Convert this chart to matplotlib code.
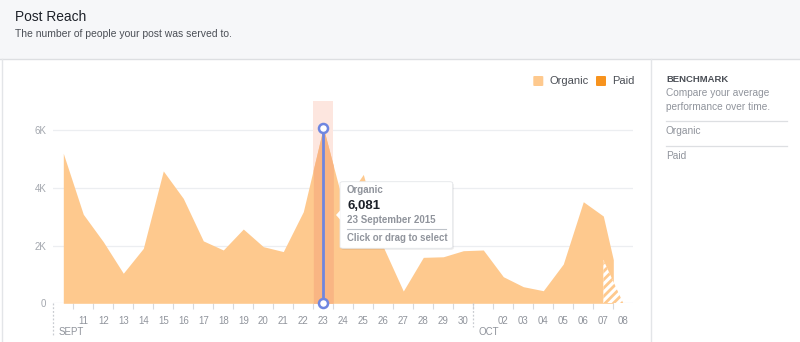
import numpy as np
import pandas as pd
import matplotlib
matplotlib.use("Agg")
import matplotlib.pyplot as plt
from matplotlib.patches import Rectangle, FancyBboxPatch, Polygon
from matplotlib.lines import Line2D

plt.rcParams['font.family'] = ['Liberation Sans', 'DejaVu Sans']
plt.rcParams['hatch.linewidth'] = 2.0

# data: daily organic reach, 10 Sept -> 8 Oct 2015
dates = pd.date_range('2015-09-10', '2015-10-08', freq='D')
organic = [5190, 3080, 2130, 1040, 1900, 4580, 3630, 2160, 1845, 2570,
           1960, 1790, 3170, 6081, 3450, 4460, 1950, 425, 1590, 1610,
           1820, 1845, 920, 575, 436, 1360, 3515, 3020, 0]
paid = [0] * len(organic)
partial_from = 27.5          # last half day is incomplete (hatched)
selected = 13                # 23 Sept, the hovered day
y_ticks = [0, 2000, 4000, 6000]
y_labels = ['0', '2K', '4K', '6K']

ORG = '#fec98e'
PAID = '#f7931e'
GRAY = '#90949c'
DARK = '#4b4f56'
BLUE = '#6f86e0'

W, H = 800, 342
fig = plt.figure(figsize=(W / 100, H / 100), dpi=100)


def fx(x):
    return x / W


def fy(y):
    return 1 - y / H


# header band
fig.add_artist(Rectangle((0, fy(59)), 1, 59 / H, transform=fig.transFigure,
                         facecolor='#f6f7f9', edgecolor='none', zorder=0))
fig.add_artist(Line2D([0, 1], [fy(59), fy(59)], transform=fig.transFigure,
                      color='#dddfe2', lw=1))
fig.add_artist(Line2D([fx(1.5), fx(1.5)], [0, fy(59)], transform=fig.transFigure,
                      color='#e3e5e8', lw=1))
fig.add_artist(Line2D([fx(651), fx(651)], [0, fy(59)], transform=fig.transFigure,
                      color='#e3e5e8', lw=1))
fig.text(fx(15), fy(21), 'Post Reach', fontsize=9.9, color='#1d2129', va='baseline')
fig.text(fx(15), fy(37), 'The number of people your post was served to.',
         fontsize=7.5, color=DARK, va='baseline')

# main axes
ax = fig.add_axes([fx(53.3), fy(303.3), 580 / W, (303.3 - 101) / H])
ax.set_facecolor('none')
for s in ax.spines.values():
    s.set_visible(False)

x = np.arange(len(organic))
org = np.array(organic, dtype=float)
ax.set_xlim(-0.5, len(organic) - 0.5)
ax.set_ylim(0, 7000)

for t in y_ticks:
    ax.axhline(t, color='#eceef1', lw=0.9, zorder=0)

# selected day band
ax.axvspan(selected - 0.5, selected + 0.5, color='#fde6df', zorder=1, lw=0)

# solid part
xs = np.append(x[x < partial_from], partial_from)
ys = np.append(org[x < partial_from], np.interp(partial_from, x, org))
ax.fill_between(xs, 0, ys, color=ORG, lw=0, zorder=2)
# hatched incomplete part
xh = np.insert(x[x > partial_from], 0, partial_from)
yh = np.insert(org[x > partial_from], 0, np.interp(partial_from, x, org))
ax.fill_between(xh, 0, yh, facecolor='white', edgecolor=ORG, hatch='////',
                lw=0, zorder=2)

# darker tint where the band overlaps the area
band_x = np.linspace(selected - 0.5, selected + 0.5, 21)
ax.fill_between(band_x, 0, np.interp(band_x, x, org), color='#f9b583', lw=0, zorder=3)

# hover marker
ax.plot([selected, selected], [0, organic[selected]], color=BLUE, lw=2, zorder=5)
ax.plot([selected, selected], [0, organic[selected]], 'o', ms=6.5, mfc='white',
        mec=BLUE, mew=1.8, zorder=6, clip_on=False)

# y axis
ax.set_yticks(y_ticks)
ax.set_yticklabels(y_labels)
ax.tick_params(axis='y', length=0, pad=5, labelsize=7, labelcolor='#a3a7ae')

# x axis: day labels at centres, small ticks at day boundaries
labels = []
month_starts = [0]
for i, d in enumerate(dates):
    if i > 0 and d.day == 1:
        month_starts.append(i)
    labels.append('' if i in month_starts else f'{d.day:02d}')
ax.set_xticks(x)
ax.set_xticklabels(labels)
ax.set_xticks(x[1:] - 0.5, minor=True)
ax.tick_params(axis='x', which='major', length=0, pad=9, labelsize=7, labelcolor=GRAY)
ax.tick_params(axis='x', which='minor', length=4, width=0.8, color='#d6d9dd')

tr = ax.get_xaxis_transform()
for k, m in enumerate(month_starts):
    bottom = -0.157 if k == 0 else -0.117
    ax.plot([m - 0.5, m - 0.5], [0, bottom], transform=tr, color='#c9ccd1',
            lw=0.9, ls=(0, (1.5, 1.5)), clip_on=False)
    ax.text(m - 0.25, -0.157, dates[m].strftime('%b').upper() + ('T' if dates[m].month == 9 else ''),
            transform=tr, fontsize=7, color=GRAY, va='baseline', ha='left')

# legend
for lx, col, name in [(533.3, ORG, 'Organic'), (596, PAID, 'Paid')]:
    fig.add_artist(FancyBboxPatch((fx(lx), fy(86)), 10 / W, 10 / H,
                                  boxstyle='round,pad=0,rounding_size=0.002',
                                  transform=fig.transFigure, facecolor=col,
                                  edgecolor='none'))
    fig.text(fx(lx + 16), fy(84), name, fontsize=8, color=DARK, va='baseline')

# tooltip
tx0, ty0, tx1, ty1 = 340, 181.7, 452.7, 248.3
fig.add_artist(FancyBboxPatch((fx(tx0 + 1), fy(ty1 + 1.5)), (tx1 - tx0) / W, (ty1 - ty0) / H,
                              boxstyle='round,pad=0,rounding_size=0.004',
                              transform=fig.transFigure, facecolor='#000000',
                              alpha=0.08, edgecolor='none', zorder=8))
fig.add_artist(FancyBboxPatch((fx(tx0), fy(ty1)), (tx1 - tx0) / W, (ty1 - ty0) / H,
                              boxstyle='round,pad=0,rounding_size=0.004',
                              transform=fig.transFigure, facecolor='white',
                              edgecolor='#e4e6e9', lw=0.6, zorder=9))
fig.add_artist(Polygon([(fx(tx0 + 0.5), fy(210)), (fx(tx0 - 4), fy(215)), (fx(tx0 + 0.5), fy(220))],
                       closed=True, transform=fig.transFigure, facecolor='white',
                       edgecolor='none', zorder=10))
fig.text(fx(347), fy(193.3), 'Organic', fontsize=7, color=GRAY, va='baseline',
         weight='bold', zorder=11)
fig.text(fx(347), fy(208.8), f'{organic[selected]:,}', fontsize=9.5, color='#1d2129',
         va='baseline', weight='bold', zorder=11)
fig.text(fx(347), fy(223.3), dates[selected].strftime('%d %B %Y').lstrip('0'),
         fontsize=7, color=GRAY, va='baseline', weight='bold', zorder=11)
fig.add_artist(Line2D([fx(347), fx(446)], [fy(229.3), fy(229.3)], transform=fig.transFigure,
                      color='#bec3c9', lw=0.8, zorder=11))
fig.text(fx(347), fy(241), 'Click or drag to select', fontsize=6.9, color=GRAY,
         va='baseline', weight='bold', zorder=11)

# right panel
fig.text(fx(666), fy(82), 'BENCHMARK', fontsize=6.8, color=DARK, weight='bold', va='baseline')
fig.text(fx(666), fy(96), 'Compare your average', fontsize=7.3, color=GRAY, va='baseline')
fig.text(fx(666), fy(110), 'performance over time.', fontsize=7.3, color=GRAY, va='baseline')
for ly in (120.7, 146):
    fig.add_artist(Line2D([fx(666), fx(787)], [fy(ly), fy(ly)], transform=fig.transFigure,
                          color='#dddfe2', lw=0.9))
fig.text(fx(666), fy(134), 'Organic', fontsize=7.3, color=GRAY, va='baseline')
fig.text(fx(666), fy(159.5), 'Paid', fontsize=7.3, color=GRAY, va='baseline')

fig.savefig('out.png', dpi=100)
